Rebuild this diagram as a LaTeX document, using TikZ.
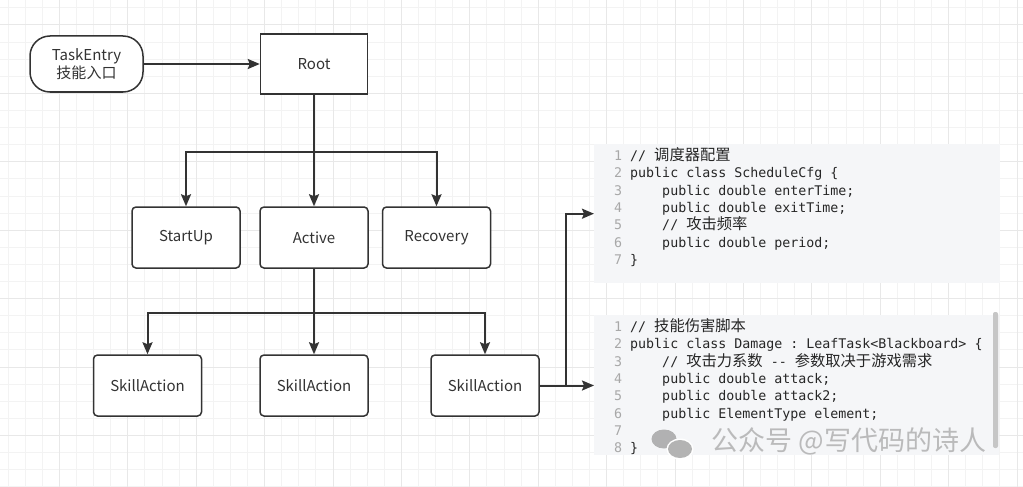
\documentclass[tikz,border=0pt]{standalone}
\usepackage{fontspec}
\setmainfont{Noto Sans CJK SC}
\setmonofont{DejaVu Sans Mono}
\newfontfamily\cjkcode{Noto Sans CJK SC}[Scale=1.15]
\usepackage{xcolor}
\usetikzlibrary{arrows.meta,positioning,calc}
\definecolor{ink}{HTML}{333333}
\definecolor{codebg}{HTML}{F5F6F8}
\definecolor{lnum}{HTML}{A8A8A8}
\definecolor{gridminor}{HTML}{F3F3F3}
\definecolor{gridmajor}{HTML}{E8E8E8}
\newcommand{\zh}[1]{{\cjkcode #1}}
\newcommand{\lno}[1]{\textcolor{lnum}{#1}}
\newcommand{\ind}{\phantom{0000}}

\begin{document}
\begin{tikzpicture}[
    x=1pt, y=-1pt,
    entry/.style={draw=ink, line width=1.5pt, rounded corners=20pt, minimum width=113pt, minimum height=56pt, align=center, fill=white, text=ink, font=\fontsize{15}{18}\selectfont},
    rootbox/.style={draw=ink, line width=1.5pt, minimum width=107pt, minimum height=60pt, fill=white, text=ink, font=\fontsize{15}{18}\selectfont},
    task/.style={draw=ink, line width=1.5pt, rounded corners=4pt, minimum width=108pt, minimum height=61pt, fill=white, text=ink, font=\fontsize{15}{18}\selectfont},
    codebox/.style={fill=codebg, inner sep=0pt, anchor=north west},
    code/.style={anchor=north west, inner sep=0pt, align=left, text=black!85, font=\ttfamily\fontsize{13.3}{17.3}\selectfont},
    arr/.style={-{Stealth[length=12pt, width=10pt, inset=2pt]}, line width=2pt, draw=ink},
    link/.style={line width=2pt, draw=ink},
    watermark/.style={text=gray!65, opacity=0.8, font=\fontsize{27}{29}\selectfont},
]
    \useasboundingbox (0,0) rectangle (1023,487);
    \clip (0,0) rectangle (1023,487);
    \fill[white] (0,0) rectangle (1023,487);
    % background grid
    \begin{scope}[shift={(59.4,25)}]
        \draw[gridminor, line width=1pt, step=17.1pt] (-80,-40) grid (1000,480);
        \draw[gridmajor, line width=1pt, step=68.4pt] (-80,-40) grid (1000,480);
    \end{scope}

    \node[entry] (entry) at (86.5, 64) {TaskEntry\\技能入口};
    \node[rootbox] (root) at (314, 64) {Root};

    \node[task] (startup) at (186, 237.5) {StartUp};
    \node[task] (active) at (314, 237.5) {Active};
    \node[task] (recovery) at (436.5, 237.5) {Recovery};

    \node[task] (skill1) at (147.5, 385.5) {SkillAction};
    \node[task] (skill2) at (314, 385.5) {SkillAction};
    \node[task] (skill3) at (485, 385.5) {SkillAction};

    % code snippets
    \node[codebox, minimum width=406pt, minimum height=139pt] (cfgbox) at (594, 144) {};
    \node[code] (cfgcode) at (614, 147.5) {%
        \lno{1} // \zh{调度器配置}\\
        \lno{2} public class ScheduleCfg \{\\
        \lno{3} \ind public double enterTime;\\
        \lno{4} \ind public double exitTime;\\
        \lno{5} \ind // \zh{攻击频率}\\
        \lno{6} \ind public double period;\\
        \lno{7} \}};

    \node[codebox, minimum width=405pt, minimum height=140pt] (dmgbox) at (594, 315) {};
    \fill[gray!45, rounded corners=2pt] (993, 312) rectangle (998, 448);
    \node[code] (dmgcode) at (614, 318.5) {%
        \lno{1} // \zh{技能伤害脚本}\\
        \lno{2} public class Damage : LeafTask<Blackboard> \{\\
        \lno{3} \ind // \zh{攻击力系数} -{}- \zh{参数取决于游戏需求}\\
        \lno{4} \ind public double attack;\\
        \lno{5} \ind public double attack2;\\
        \lno{6} \ind public ElementType element;\\
        \lno{7}\\
        \lno{8} \}};

    \coordinate (fork1) at (314, 152);
    \coordinate (fork2) at (314, 313);
    \coordinate (bend) at (566, 385.5);

    \draw[arr] (entry) -- (root);
    \draw[arr] (root) -- (active);
    \draw[arr] (fork1) -| (startup.north);
    \draw[arr] (fork1) -| (recovery.north);
    \draw[arr] (active) -- (skill2);
    \draw[arr] (fork2) -| (skill1.north);
    \draw[arr] (fork2) -| (skill3.north);
    \draw[link] (skill3.east) -- (bend);
    \draw[arr] (bend) |- (cfgbox.west);
    \draw[arr] (bend) -- (bend -| dmgbox.west);

    % watermark
    \fill[gray!70, opacity=0.85] (664, 439) ellipse (12.5 and 9.5);
    \fill[white] (680, 449) ellipse (13.5 and 10.5);
    \fill[gray!70, opacity=0.85] (680, 449) ellipse (12 and 9);
    \node[watermark] (wmark) at (849, 441) {公众号 @写代码的诗人};
\end{tikzpicture}
\end{document}
